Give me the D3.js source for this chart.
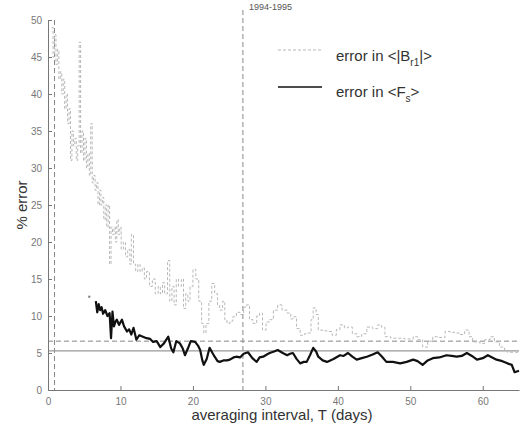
<!DOCTYPE html>
<html>
<head>
<meta charset="utf-8">
<script src="https://cdn.jsdelivr.net/npm/d3@7"></script>
<style>
  body { margin: 0; background: #fff; }
  text { font-family: "Liberation Sans", Arial, sans-serif; }
</style>
</head>
<body>
<div id="chart"></div>
<script>
// error in <|Br1|>  (day, % error)
var brDays = [0.5,0.7,0.9,1.1,1.3,1.5,1.7,1.9,2.1,2.3,2.5,2.7,2.9,3.1,3.3,3.5,3.7,3.9,4.1,4.3,4.5,4.7,4.9,5.1,5.3,5.5,5.7,5.9,6.1,6.3,6.5,6.7,6.9,7.1,7.3,7.5,7.7,7.9,8.1,8.3,8.5,8.7,8.9,9.1,9.3,9.5,9.7,9.9,10.1,10.4,10.7,11.0,11.3,11.5,11.8,12.1,12.4,12.7,13.0,13.3,13.6,14.0,14.4,14.8,15.2,15.5,15.8,16.1,16.5,16.8,17.1,17.4,17.7,18.0,18.4,18.7,19.0,19.3,19.6,20.0,20.4,20.8,21.2,21.5,21.8,22.2,22.6,23.0,23.4,23.7,24.1,24.4,24.7,25.1,25.5,26.0,26.5,27.0,27.4,27.8,28.3,28.8,29.2,29.6,30.1,30.6,31.1,31.7,32.3,33.0,33.5,33.8,34.3,34.8,35.4,35.9,36.3,36.6,37.0,37.3,37.9,38.5,39.2,39.8,40.3,40.9,41.4,42.0,42.6,43.3,44.0,44.8,45.5,46.0,46.5,47.3,48.1,49.2,50.4,51.0,51.7,52.4,53.1,54.0,54.8,55.5,56.1,56.8,57.5,58.1,58.6,59.6,60.3,61.0,61.6,62.3,63.0,63.4,64.4,65.0];
var brErr = [49,45,48,44,46,42,43,40,42,38,40,36,38,31,35,33,34,31,33,47,32,35,31,34,30,32,29,36,28,29,27,28,25,27,25,26,23,25,22,25,17,22,21,22,20,23,21,22,19,20,18,19,17,21,17,16,17,16,16.5,15,16,14,15,13,14,13,14.5,13,17.5,12,14,11.5,15,14,15,11,13,12,14,16.3,15,12,9,7.7,9,12,14.4,13,11.5,10.8,12,9.5,9,9.3,9.9,10.5,10.2,11.2,11.5,9.5,9,10,10.4,8.1,9.2,9.5,10.8,11.5,10.8,10.4,9.6,9.9,8.3,7.4,7.6,7.7,9.5,11.1,10.2,8.1,8.0,7.9,7.4,8.2,8.8,8.4,8.5,7.6,7.2,7.6,8.5,8.3,8.8,8.5,7.2,7.0,7.0,6.9,7.2,6.8,5.8,6.6,7.2,7.1,7.9,7.8,7.7,7.5,8.1,7.2,6.5,6.3,6.8,7.2,6.5,5.8,5.4,5.1,5.1,5.0];

// error in <Fs>
var fsDays = [6.6,6.8,7.0,7.2,7.4,7.6,7.9,8.2,8.5,8.7,8.9,9.1,9.3,9.5,9.8,10.2,10.5,10.9,11.2,11.5,11.8,12.2,12.6,13.1,13.6,14.1,14.5,15.0,15.5,16.0,16.6,17.0,17.3,17.7,18.2,18.6,18.9,19.3,19.7,20.3,20.7,21.0,21.3,21.5,21.9,22.3,22.7,23.0,23.4,23.7,24.2,24.7,25.1,25.6,26.0,26.5,27.0,27.6,28.2,28.8,29.2,29.7,30.2,30.6,31.2,31.7,32.4,33.0,33.4,33.8,34.3,34.8,35.3,35.7,36.2,36.6,37.0,37.3,37.9,38.5,39.4,40.3,40.8,41.4,42.0,42.6,43.3,44.0,44.8,45.5,46.1,46.7,47.6,48.6,49.5,50.4,51.0,51.7,52.4,53.1,54.0,55.0,55.7,56.4,57.1,57.8,58.5,59.2,60.0,60.7,61.3,61.9,62.7,63.4,64.0,64.4,65.0];
var fsErr = [12.0,10.5,11.6,10.8,11.2,10.3,10.8,10.0,10.4,7.0,10.6,8.6,9.2,9.5,8.8,9.5,8.6,7.9,8.2,7.5,8.4,6.8,7.4,7.2,7.0,6.9,6.5,6.6,5.8,6.3,7.2,5.6,5.1,6.6,6.3,5.6,4.7,5.6,6.6,6.5,6.0,5.4,4.0,3.4,4.2,5.7,5.0,4.5,3.9,3.8,4.0,4.0,4.1,4.4,4.5,4.4,4.9,5.1,4.3,3.8,4.4,4.5,4.8,5.0,5.2,5.4,5.0,4.7,4.9,5.0,4.2,3.6,3.8,3.8,4.8,5.7,5.2,4.5,4.0,3.8,4.2,4.7,4.6,5.0,4.5,4.1,4.3,4.5,4.8,5.1,4.5,3.8,3.8,3.6,3.8,4.1,3.9,3.4,4.0,4.3,4.4,4.7,4.6,4.5,4.6,5.0,4.6,4.1,4.3,4.7,4.4,4.1,3.9,3.6,3.4,2.4,2.6];
var fsStartDot = [5.7, 12.6];

var xTicks = [0,10,20,30,40,50,60];
var yTicks = [0,5,10,15,20,25,30,35,40,45,50];
var vLines = [0.9, 26.9];     // dashed verticals
var hDashed = 6.6;            // dashed horizontal
var hSolid = 5.3;             // solid horizontal
var periodLabel = "1994-1995";

function drawChart(){
    var w = 520, h = 432;
    var mLeft = 48, mRight = 519, mTop = 20, mBottom = 390;

    var svg = d3.select("#chart").append("svg")
        .attr("width", w).attr("height", h);

    var xScale = d3.scaleLinear().domain([0, 65]).range([mLeft, mRight]);
    var yScale = d3.scaleLinear().domain([0, 50]).range([mBottom, mTop]);

    var axisColor = "#777";

    // reference lines
    svg.selectAll("vline").data(vLines).enter().append("line")
        .attr("x1", d => xScale(d)).attr("x2", d => xScale(d))
        .attr("y1", function(d, i){ return i == 1 ? 10 : mTop; })
        .attr("y2", mBottom)
        .attr("stroke", "#888").attr("stroke-width", 1)
        .attr("stroke-dasharray", "5,3");

    svg.append("line")
        .attr("x1", mLeft).attr("x2", mRight)
        .attr("y1", yScale(hDashed)).attr("y2", yScale(hDashed))
        .attr("stroke", "#888").attr("stroke-dasharray", "5,3");

    svg.append("line")
        .attr("x1", mLeft).attr("x2", mRight)
        .attr("y1", yScale(hSolid)).attr("y2", yScale(hSolid))
        .attr("stroke", "#999").attr("stroke-width", 1.2);

    svg.append("text")
        .attr("x", xScale(vLines[1]) + 6).attr("y", 10)
        .attr("font-size", 9).attr("fill", "#555")
        .text(periodLabel);

    // series
    var stepLine = d3.line()
        .x(d => xScale(d[0])).y(d => yScale(d[1]))
        .curve(d3.curveStepAfter);
    var smoothLine = d3.line()
        .x(d => xScale(d[0])).y(d => yScale(d[1]));

    var brData = brDays.map((d, i) => [d, brErr[i]]);
    var fsData = fsDays.map((d, i) => [d, fsErr[i]]);

    svg.append("path")
        .attr("d", stepLine(brData))
        .attr("fill", "none").attr("stroke", "#b8b8b8")
        .attr("stroke-width", 1).attr("stroke-dasharray", "3,2");

    svg.append("path")
        .attr("d", smoothLine(fsData))
        .attr("fill", "none").attr("stroke", "#111")
        .attr("stroke-width", 2.2).attr("stroke-linejoin", "round");

    svg.append("circle")
        .attr("cx", xScale(fsStartDot[0])).attr("cy", yScale(fsStartDot[1]))
        .attr("r", 1.2).attr("fill", "#888");

    // axes
    var xAxis = d3.axisBottom(xScale).tickValues(xTicks).tickSizeInner(-4).tickSizeOuter(0).tickPadding(8);
    var yAxis = d3.axisLeft(yScale).tickValues(yTicks).tickSizeInner(-4).tickSizeOuter(0).tickPadding(6);

    var gx = svg.append("g").attr("transform", "translate(0," + mBottom + ")").call(xAxis);
    var gy = svg.append("g").attr("transform", "translate(" + mLeft + ",0)").call(yAxis);

    [gx, gy].forEach(function(g){
        g.select(".domain").attr("stroke", axisColor);
        g.selectAll(".tick line").attr("stroke", axisColor);
        g.selectAll(".tick text").attr("fill", "#777").attr("font-size", 10)
            .attr("font-family", "Liberation Sans, Arial, sans-serif");
    });

    // axis titles
    svg.append("text")
        .attr("x", 282).attr("y", 420)
        .attr("text-anchor", "middle").attr("font-size", 15).attr("fill", "#333")
        .text("averaging interval, T (days)");

    svg.append("text")
        .attr("transform", "translate(27,205) rotate(-90)")
        .attr("text-anchor", "middle").attr("font-size", 15).attr("fill", "#333")
        .text("% error");

    // legend
    var legend = svg.append("g");
    legend.append("line")
        .attr("x1", 278).attr("x2", 322).attr("y1", 50).attr("y2", 50)
        .attr("stroke", "#b8b8b8").attr("stroke-width", 1.1).attr("stroke-dasharray", "3,2");
    legend.append("line")
        .attr("x1", 278).attr("x2", 322).attr("y1", 87).attr("y2", 87)
        .attr("stroke", "#111").attr("stroke-width", 1.5);

    var t1 = legend.append("text").attr("x", 336).attr("y", 61)
        .attr("font-size", 15).attr("fill", "#333");
    t1.append("tspan").text("error in <|B");
    t1.append("tspan").attr("font-size", 10).attr("dy", 5).text("r1");
    t1.append("tspan").attr("dy", -5).text("|>");

    var t2 = legend.append("text").attr("x", 336).attr("y", 97)
        .attr("font-size", 15).attr("fill", "#333");
    t2.append("tspan").text("error in <F");
    t2.append("tspan").attr("font-size", 10).attr("dy", 5).text("s");
    t2.append("tspan").attr("dy", -5).text(">");
}

drawChart();
</script>
</body>
</html>
